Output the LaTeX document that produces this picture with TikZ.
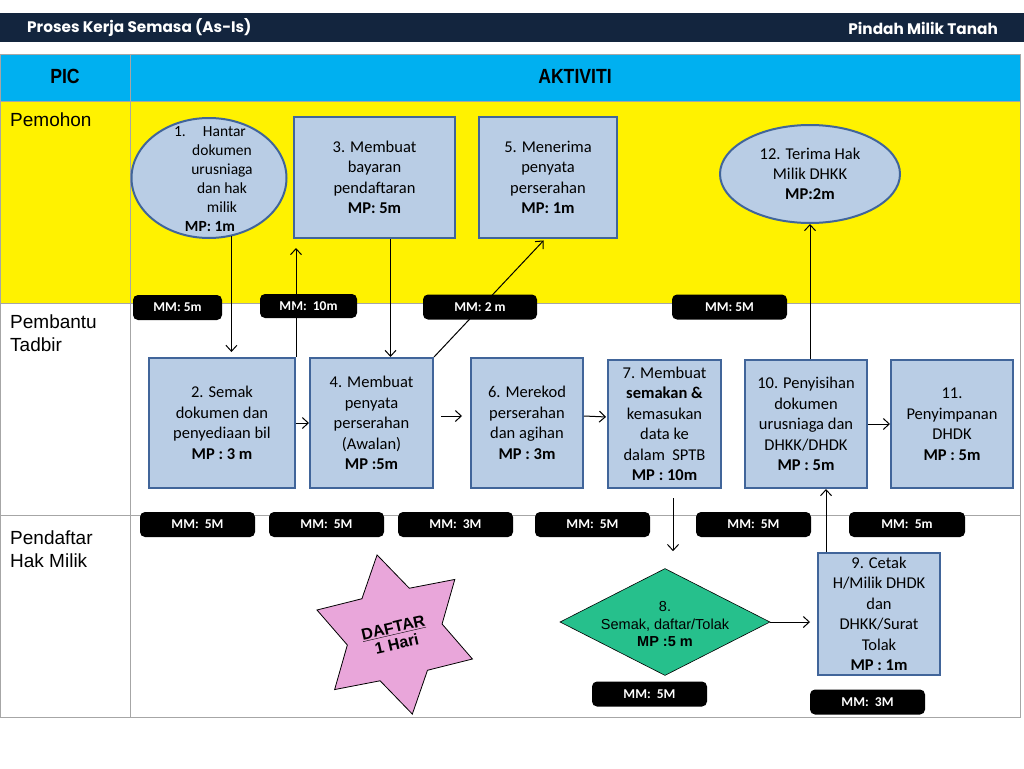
\documentclass[tikz,border=0pt]{standalone}
\usepackage{fontspec}
\setmainfont{Carlito}
\newfontfamily\arialf{Liberation Sans}
\newfontfamily\titlef{Poppins}
\usetikzlibrary{shapes.geometric,arrows.meta,calc}
\definecolor{navy}{HTML}{13253E}
\definecolor{cyanh}{HTML}{00B0F0}
\definecolor{boxfill}{HTML}{B9CDE5}
\definecolor{boxline}{HTML}{41659A}
\definecolor{gridc}{HTML}{A6A6A6}
\definecolor{dgreen}{HTML}{26C08C}
\definecolor{starpink}{HTML}{E9A6DA}
\begin{document}
\begin{tikzpicture}[x=1pt,y=-1pt,
 box/.style={draw=boxline, line width=2pt, fill=boxfill, align=center, inner sep=0pt, font=\fontsize{16.5}{20.5}\selectfont},
 ell/.style={ellipse, draw=boxline, line width=2pt, fill=boxfill, align=center, inner sep=0pt, font=\fontsize{16.5}{20}\selectfont},
 mm/.style={fill=black, rounded corners=5pt, text=white, font=\bfseries\fontsize{13.5}{14}\selectfont, minimum height=25pt, inner sep=0pt},
 arr/.style={-{Straight Barb[length=6pt,width=11pt]}, line width=1pt},
 lane/.style={font=\arialf\fontsize{19}{23}\selectfont, align=left, anchor=north west, inner sep=0pt},
 hdr/.style={font=\arialf\bfseries\fontsize{20.5}{22}\selectfont, inner sep=0pt},
 ttl/.style={text=white, font=\titlef\bfseries\fontsize{15.3}{17}\selectfont, inner sep=0pt},
]
\useasboundingbox (0,0) rectangle (1024,768);
\fill[white] (0,0) rectangle (1024,768);
% title bar
\fill[navy] (0,13) rectangle (1024,42);
\node[ttl, anchor=west] (t1) at (27,28) {Proses Kerja Semasa (As-Is)};
\node[ttl, anchor=east] (t2) at (998,28) {Pindah Milik Tanah};
% table
\fill[cyanh] (0,55) rectangle (1020,101);
\fill[yellow] (0,101) rectangle (1020,303);
\draw[gridc, line width=1pt] (0,55) rectangle (1020,717);
\draw[gridc, line width=1pt] (0,101) -- (1020,101) (0,303) -- (1020,303) (0,515) -- (1020,515) (130,55) -- (130,717);
\node[hdr] (pic) at (65,76) {\scalebox{0.86}[1]{PIC}};
\node[hdr] (akt) at (575,76) {\scalebox{0.86}[1]{AKTIVITI}};
\node[lane] (l1) at (10,113) {Pemohon};
\node[lane] (l2) at (10,315) {Pembantu\\Tadbir};
\node[lane] (l3) at (10,531) {Pendaftar\\Hak Milik};
% shapes
\node[ell, minimum width=155pt, minimum height=120pt] (e1) at (209,178) {};
\node[align=center, inner sep=0pt, font=\fontsize{15.5}{19}\selectfont] (e1t) at (222,179) {1.\hspace{1.1em}Hantar\hspace{24pt}\mbox{}\\dokumen\\urusniaga\\dan hak\\milik\\\textbf{MP: 1m}\hspace{24pt}\mbox{}};
\node[box, minimum width=161pt, minimum height=121pt] (b3) at (374.5,177.5) {3. Membuat\\bayaran\\pendaftaran\\\textbf{MP: 5m}};
\node[box, minimum width=138pt, minimum height=121pt] (b5) at (548,177.5) {5. Menerima\\penyata\\perserahan\\\textbf{MP: 1m}};
\node[ell, minimum width=180pt, minimum height=98pt] (e12) at (810,174) {12. Terima Hak\\Milik DHKK\\\textbf{MP:2m}};
\node[box, minimum width=146pt, minimum height=130pt] (b2) at (222,423) {2. Semak\\dokumen dan\\penyediaan bil\\\textbf{MP : 3 m}};
\node[box, minimum width=123pt, minimum height=130pt] (b4) at (371.5,423) {4. Membuat\\penyata\\perserahan\\(Awalan)\\\textbf{MP :5m}};
\node[box, minimum width=112pt, minimum height=130pt] (b6) at (527,423) {6. Merekod\\perserahan\\dan agihan\\\textbf{MP : 3m}};
\node[box, minimum width=113pt, minimum height=128pt] (b7) at (664.5,424) {7. Membuat\\\textbf{semakan \&}\\kemasukan\\data ke\\dalam\ \ SPTB\\\textbf{MP : 10m}};
\node[box, minimum width=122pt, minimum height=128pt] (b10) at (806,424) {10. Penyisihan\\dokumen\\urusniaga dan\\DHKK/DHDK\\\textbf{MP : 5m}};
\node[box, minimum width=122pt, minimum height=128pt] (b11) at (952,424) {11.\\Penyimpanan\\DHDK\\\textbf{MP : 5m}};
\node[box, minimum width=122pt, minimum height=122pt] (b9) at (879,614) {9. Cetak\\H/Milik DHDK\\dan\\DHKK/Surat\\Tolak\\\textbf{MP : 1m}};
\node[diamond, draw=black, line width=0.6pt, fill=dgreen, minimum width=210pt, minimum height=107pt, inner sep=0pt] (d8) at (665,622) {};
\node[align=center, inner sep=0pt, font=\arialf\fontsize{14.5}{17.5}\selectfont] (d8t) at (665,624) {8.\\Semak, daftar/Tolak\\\textbf{MP :5 m}};
\node[star, star points=6, star point ratio=1.68, minimum size=163pt, shape border rotate=12.5, draw=black, line width=0.8pt, fill=starpink, inner sep=0pt] (st) at (394.7,634.5) {};
\node[rotate=13, align=center, inner sep=0pt, font=\arialf\bfseries\fontsize{16}{17}\selectfont] (stt) at (395,636) {\underline{DAFTAR}\\1 Hari};
% MM labels
\node[mm, minimum width=89pt] (m1) at (177.5,307.5) {MM: 5m};
\node[mm, minimum width=97pt, minimum height=24pt] (m2) at (308.5,306) {MM:\ \ 10m};
\node[mm, minimum width=114pt] (m3) at (480,307) {MM: 2 m};
\node[mm, minimum width=115pt] (m4) at (729.5,307) {MM: 5M};
\node[mm, minimum width=115pt] (m5) at (197.5,524.5) {MM:\ \ 5M};
\node[mm, minimum width=115pt] (m6) at (326.5,524.5) {MM:\ \ 5M};
\node[mm, minimum width=115pt] (m7) at (455.5,524.5) {MM:\ \ 3M};
\node[mm, minimum width=115pt] (m8) at (592.5,524.5) {MM:\ \ 5M};
\node[mm, minimum width=115pt] (m9) at (753.5,524.5) {MM:\ \ 5M};
\node[mm, minimum width=116pt] (m10) at (907,524.5) {MM:\ \ 5m};
\node[mm, minimum width=115pt] (m11) at (649.5,694) {MM:\ \ 5M};
\node[mm, minimum width=115pt] (m12) at (867.5,702) {MM:\ \ 3M};
% connectors
\draw[arr, shorten >=5pt] (e1.-69) -- (e1.-69 |- b2.north);
\draw[arr, shorten >=9pt] (b2.north east) -- (b2.north east |- b3.south);
\coordinate (p3) at ([xshift=16pt]b3.south);
\draw[arr] (p3) -- (p3 |- b4.north);
\draw[arr, shorten >=2pt] (b4.north east) -- ([xshift=-3pt]b5.south);
\draw[arr] (b2.east) -- (b4.west);
\draw[arr, shorten <=7pt, shorten >=8pt] ([yshift=7pt]b4.east) -- ([yshift=7pt]b6.west);
\draw[arr, shorten >=1pt] ([yshift=7pt]b6.east) -- ([yshift=7pt]b7.west);
\draw[arr] (b10.east) -- (b11.west);
\coordinate (p7) at ([xshift=8.5pt,yshift=-9pt]b7.south);
\draw[arr, shorten >=17pt] (p7) -- (p7 |- d8.north);
\draw[arr, shorten >=7pt] (d8.east) -- (d8.east -| b9.west);
\coordinate (p9) at ([xshift=-53pt]b9.north);
\draw[arr] (p9) -- (p9 |- b10.south);
\draw[arr] (b10.north -| e12.south) -- (e12.south);
\end{tikzpicture}
\end{document}
